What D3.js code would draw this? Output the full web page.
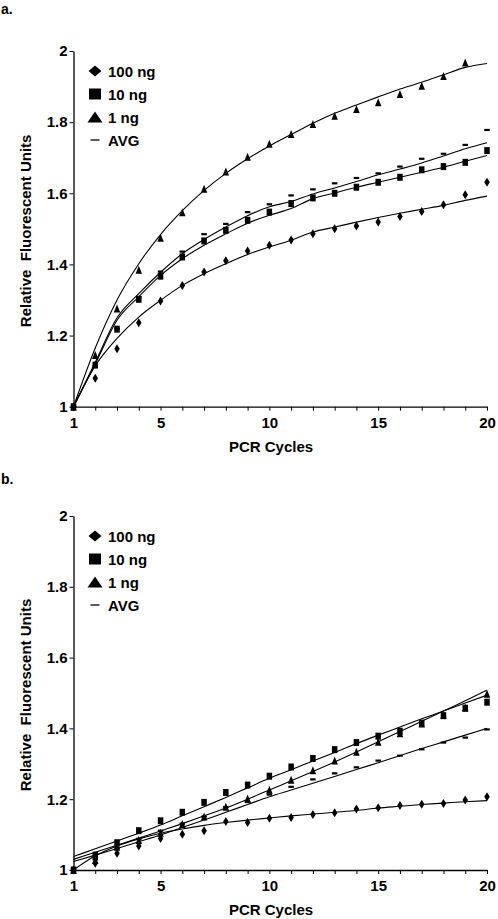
<!DOCTYPE html>
<html><head><meta charset="utf-8">
<script src="https://cdn.jsdelivr.net/npm/d3@7"></script>
<style>body{margin:0;background:#fff}svg text{font-family:"Liberation Sans",Arial,sans-serif;font-weight:bold;fill:#000}</style>
</head><body><svg id="c" width="498" height="919"></svg>
<script>
const cycles = [1,2,3,4,5,6,7,8,9,10,11,12,13,14,15,16,17,18,19,20];
const xTickLabels = [1,5,10,15,20];
const yTickValues = [1,1.2,1.4,1.6,1.8,2];
const seriesNames = ["100 ng","10 ng","1 ng","AVG"];

// Panel a
const a100 = [1.000,1.080,1.163,1.236,1.297,1.341,1.379,1.410,1.438,1.454,1.469,1.486,1.500,1.508,1.519,1.535,1.549,1.568,1.596,1.631];
const a10  = [1.000,1.117,1.218,1.302,1.367,1.421,1.466,1.496,1.524,1.547,1.571,1.587,1.600,1.617,1.631,1.645,1.666,1.675,1.687,1.720];
const a1   = [1.000,1.145,1.276,1.385,1.475,1.547,1.613,1.661,1.703,1.739,1.767,1.795,1.818,1.837,1.856,1.879,1.902,1.930,1.968,null];
const aAvg = [1.000,1.114,1.219,1.308,1.380,1.436,1.485,1.514,1.547,1.569,1.594,1.611,1.628,1.643,1.656,1.675,1.697,1.711,1.736,1.778];
const a100Fit = [1.000,1.115,1.192,1.252,1.299,1.341,1.374,1.402,1.428,1.449,1.468,1.491,1.505,1.519,1.532,1.544,1.555,1.566,1.580,1.592];
const a10Fit  = [1.000,1.120,1.243,1.309,1.369,1.416,1.454,1.486,1.516,1.538,1.557,1.585,1.601,1.617,1.631,1.645,1.659,1.673,1.690,1.706];
const a1Fit   = [1.000,1.165,1.300,1.402,1.484,1.551,1.608,1.656,1.697,1.733,1.765,1.797,1.825,1.848,1.871,1.893,1.912,1.933,1.954,1.965];
const aAvgFit = [1.000,1.125,1.250,1.318,1.378,1.430,1.470,1.505,1.537,1.562,1.577,1.598,1.615,1.633,1.652,1.668,1.685,1.705,1.725,1.742];

// Panel b
const b100 = [1.000,1.019,1.047,1.068,1.089,1.101,1.111,1.137,1.134,1.146,1.148,1.157,1.162,1.172,1.176,1.182,1.186,1.188,1.198,1.207];
const b10  = [1.000,1.042,1.077,1.111,1.139,1.163,1.191,1.219,1.240,1.265,1.291,1.315,1.340,1.360,1.378,1.392,1.415,1.436,1.457,1.474];
const b1   = [1.000,1.028,1.066,1.085,1.105,1.130,1.151,1.179,1.202,1.227,1.255,1.282,1.309,1.334,1.362,1.386,1.414,1.438,1.459,1.498];
const bAvg = [1.000,1.030,1.063,1.088,1.111,1.131,1.151,1.178,1.192,1.213,1.235,1.256,1.273,1.290,1.309,1.323,1.341,1.360,1.374,1.397];
const b100Fit = [1.000,1.040,1.068,1.088,1.104,1.116,1.126,1.134,1.141,1.147,1.153,1.158,1.163,1.168,1.175,1.180,1.185,1.189,1.193,1.196];
const b10Fit  = [1.038,1.060,1.082,1.104,1.127,1.153,1.179,1.205,1.232,1.259,1.283,1.308,1.332,1.357,1.381,1.404,1.427,1.449,1.472,1.494];
const b1Fit   = [1.030,1.050,1.070,1.090,1.110,1.131,1.153,1.175,1.200,1.226,1.252,1.278,1.305,1.333,1.362,1.391,1.420,1.449,1.478,1.508];
const bAvgFit = [1.024,1.042,1.061,1.080,1.099,1.120,1.141,1.163,1.185,1.207,1.226,1.245,1.264,1.284,1.303,1.323,1.343,1.362,1.381,1.400];

const svg = d3.select("#c");

function markerPath(kind, w, h){
  const p = d3.path();
  if(kind==="diamond"){ p.moveTo(0,-h/2); p.lineTo(w/2,0); p.lineTo(0,h/2); p.lineTo(-w/2,0); p.closePath(); }
  else if(kind==="square"){ p.rect(-w/2,-h/2,w,h); }
  else if(kind==="triangle"){ p.moveTo(0,-h/2); p.lineTo(w/2,h/2); p.lineTo(-w/2,h/2); p.closePath(); }
  else { p.rect(-w/2,-h/2,w,h); }
  return p.toString();
}
const kinds = ["diamond","square","triangle","dash"];
const dataSize = {diamond:[5.5,9], square:[5.5,7], triangle:[6.5,8], dash:[5.5,2.2]};
const legSize  = {diamond:[13,11], square:[12,11], triangle:[15,11], dash:[9,1.3]};

function drawPanel(cfg){
  const g = svg.append("g");
  const x = d3.scaleLinear().domain([1,20]).range([73.5,487]);
  const y = d3.scaleLinear().domain([1,2]).range([cfg.y0, cfg.y2]);

  g.append("text").attr("x",1).attr("y",cfg.labelY).style("font-size","14px").text(cfg.label);

  const xa = g.append("g").attr("transform",`translate(0,${cfg.y0})`)
    .call(d3.axisBottom(x).tickValues(cycles).tickSize(4).tickSizeOuter(0)
      .tickFormat(d => xTickLabels.includes(d) ? d : ""));
  xa.select(".domain").attr("stroke","#000").attr("stroke-width",1.3);
  xa.selectAll(".tick line").attr("stroke","#000").attr("stroke-width",1);
  xa.selectAll(".tick text").style("font-size","15px").attr("dy","0.95em");
  const ya = g.append("g").attr("transform",`translate(73.5,0)`)
    .call(d3.axisLeft(y).tickValues(yTickValues).tickSize(4).tickSizeOuter(0).tickFormat(d3.format("~g")));
  ya.select(".domain").attr("stroke","#000").attr("stroke-width",1.3);
  ya.selectAll(".tick line").attr("stroke","#000");
  ya.selectAll(".tick text").style("font-size","15px").attr("x",-6);

  g.append("text").attr("x",271).attr("y",cfg.y0+45).attr("text-anchor","middle").style("font-size","15px").text("PCR Cycles");
  g.append("text").attr("transform",`translate(31,${(cfg.y0+cfg.y2)/2+2}) rotate(-90)`).attr("text-anchor","middle")
    .style("font-size","15px").attr("xml:space","preserve").text("Relative  Fluorescent Units");

  const line = d3.line().defined(d=>d[1]!=null).x(d=>x(d[0])).y(d=>y(d[1])).curve(d3.curveMonotoneX);
  cfg.fits.forEach(f=>{
    g.append("path").datum(cycles.map((c,i)=>[c,f[i]])).attr("d",line)
      .attr("fill","none").attr("stroke","#000").attr("stroke-width",1.1);
  });
  cfg.series.forEach((s,k)=>{
    const kind = kinds[k], sz = dataSize[kind];
    g.selectAll(null).data(cycles.map((c,i)=>[c,s[i]]).filter(d=>d[1]!=null)).join("path")
      .attr("transform",d=>`translate(${x(d[0])},${y(d[1])})`)
      .attr("d",markerPath(kind,sz[0],sz[1])).attr("fill","#000");
  });

  const lg = g.append("g").attr("transform",`translate(95,${cfg.y2+20})`);
  seriesNames.forEach((n,k)=>{
    const kind = kinds[k], sz = legSize[kind];
    const row = lg.append("g").attr("transform",`translate(0,${k*23})`);
    row.append("path").attr("d",markerPath(kind,sz[0],sz[1])).attr("fill","#000");
    row.append("text").attr("x",13).attr("y",5.5).style("font-size","15px").text(n);
  });
}

drawPanel({label:"a.", labelY:14, y0:406.7, y2:51,
  series:[a100,a10,a1,aAvg], fits:[a100Fit,a10Fit,a1Fit,aAvgFit]});
drawPanel({label:"b.", labelY:484, y0:870, y2:516,
  series:[b100,b10,b1,bAvg], fits:[b100Fit,b10Fit,b1Fit,bAvgFit]});
</script></body></html>
